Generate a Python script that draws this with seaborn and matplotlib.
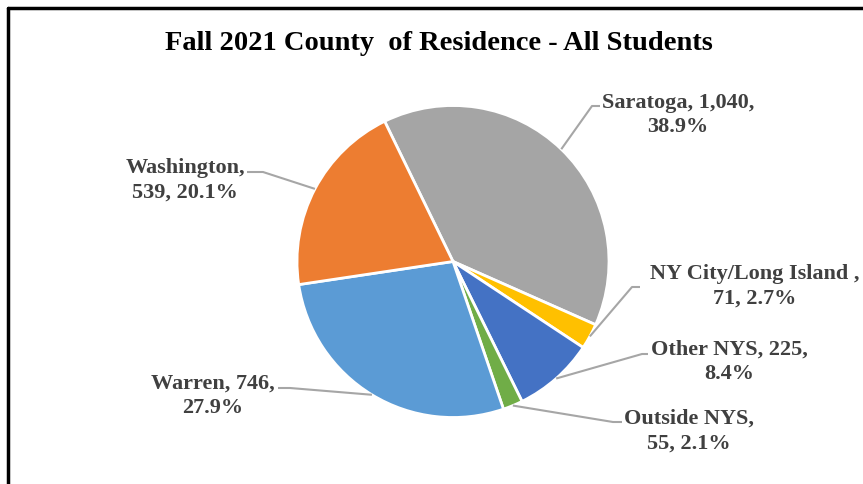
import numpy as np
import matplotlib
matplotlib.use("Agg")
import matplotlib.pyplot as plt
from matplotlib.lines import Line2D
import seaborn as sns

# data
counties = ['Saratoga', 'NY City/Long Island ', 'Other NYS', 'Outside NYS', 'Warren', 'Washington']
students = [1040, 71, 225, 55, 746, 539]
pct_labels = ['38.9%', '2.7%', '8.4%', '2.1%', '27.9%', '20.1%']
label_text = ['Saratoga, 1,040,\n38.9%',
              'NY City/Long Island ,\n71, 2.7%',
              'Other NYS, 225,\n8.4%',
              'Outside NYS,\n55, 2.1%',
              'Warren, 746,\n27.9%',
              'Washington,\n539, 20.1%']
colors = ['#A5A5A5', '#FFC000', '#4472C4', '#70AD47', '#5B9BD5', '#ED7D31']

W, H = 863, 485

def px(x, y):
    # pixel position (top-left origin) -> data coords
    return x, H - y

# label layout: text centre, elbow, end of leader (pixels)
label_pos = [(678, 115), (755, 286), (729, 362), (689, 431), (213, 396), (185, 180)]
elbows = [(592, 107), (632, 288), (642, 355), (613, 423), (290, 389), (263, 173)]
ends = [(600, 107), (640, 288), (648, 355), (622, 423), (278, 389), (247, 173)]

sns.set_theme(style="white")
plt.rcParams['font.family'] = ['Liberation Serif', 'DejaVu Serif']

fig = plt.figure(figsize=(W / 100, H / 100), dpi=100)
ax = fig.add_axes([0, 0, 1, 1])
ax.set_xlim(0, W)
ax.set_ylim(0, H)
ax.axis('off')

cx, cy = px(453, 262.5)
r = 156
wedges, _ = ax.pie(students, colors=sns.color_palette(colors), startangle=116,
                   counterclock=False, center=(cx, cy), radius=r,
                   wedgeprops=dict(edgecolor='white', linewidth=2))
ax.set_xlim(0, W)
ax.set_ylim(0, H)

for w, txt, (tx, ty), (ex, ey), (nx, ny) in zip(wedges, label_text, label_pos, elbows, ends):
    ang = np.deg2rad((w.theta1 + w.theta2) / 2)
    sx, sy = cx + r * np.cos(ang), cy + r * np.sin(ang)
    ex, ey = px(ex, ey)
    nx, ny = px(nx, ny)
    ax.plot([sx, ex, nx], [sy, ey, ny], color='#A6A6A6', lw=1.5, solid_capstyle='butt')
    tx, ty = px(tx, ty)
    ax.text(tx, ty, txt, ha='center', va='center', fontsize=16, fontweight='bold',
            color='#404040', linespacing=1.3)

tx, ty = px(439, 44)
ax.text(tx, ty, 'Fall 2021 County  of Residence - All Students', ha='center', va='center',
        fontsize=20.5, fontweight='bold', color='#000000')

# chart frame (only top and left edges visible in the crop)
fig.add_artist(Line2D([7.5 / W, 1], [1 - 8.5 / H, 1 - 8.5 / H], color='black', lw=2.5,
                      transform=fig.transFigure))
fig.add_artist(Line2D([7.5 / W, 7.5 / W], [0, 1 - 8.5 / H], color='black', lw=2.5,
                      transform=fig.transFigure))

fig.savefig('out.png', dpi=100, facecolor='white')
